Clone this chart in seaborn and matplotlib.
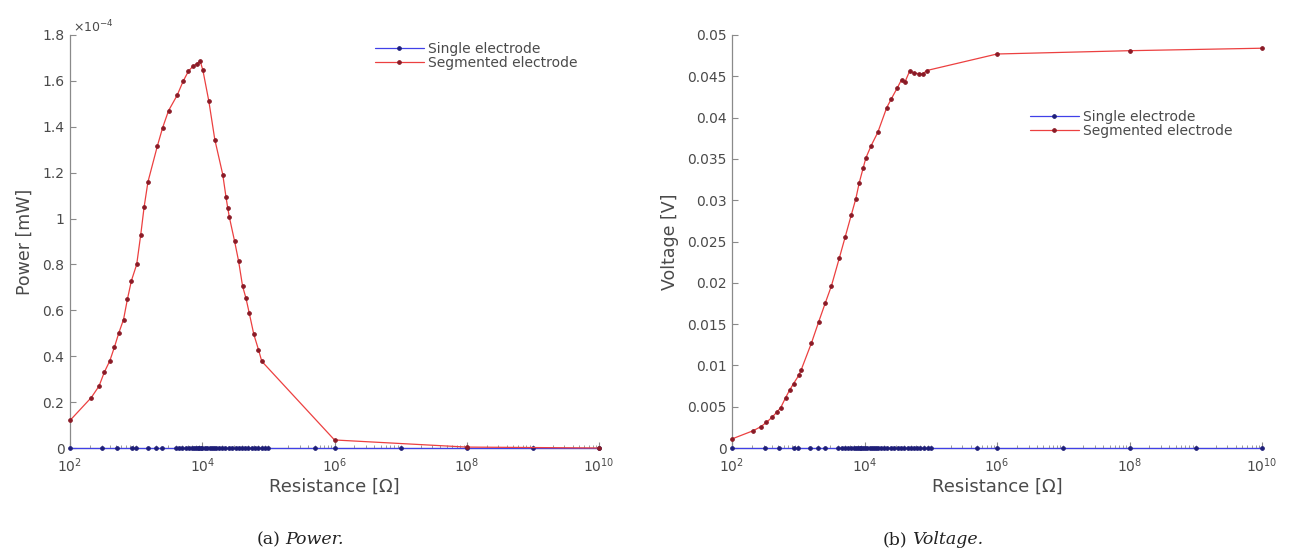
import math
import matplotlib
matplotlib.use("Agg")
import matplotlib.pyplot as plt
from matplotlib.ticker import (LogLocator, FuncFormatter, MultipleLocator,
                               NullFormatter, FixedLocator)
import seaborn as sns
import pandas as pd

# ---------------- data ----------------
# Segmented electrode, power sweep (resistance in ohm, power in units of 1e-4 mW)
seg_power_R = [100, 210, 275, 330, 400, 470, 545, 645, 740, 850, 1020, 1175, 1320,
               1510, 2090, 2510, 3090, 4170, 5130, 6170, 7240, 8320, 9330, 10230,
               12590, 15490, 20420, 22910, 24270, 25700, 30900, 35480, 40740, 45710,
               51290, 60260, 70790, 79430, 1e6, 1e8, 1e10]
seg_power = [0.12, 0.22, 0.27, 0.33, 0.38, 0.44, 0.50, 0.56, 0.65, 0.73, 0.80, 0.93, 1.05,
             1.16, 1.315, 1.395, 1.47, 1.537, 1.598, 1.642, 1.664, 1.675, 1.685, 1.646,
             1.511, 1.344, 1.192, 1.092, 1.047, 1.006, 0.90, 0.814, 0.705, 0.654,
             0.589, 0.495, 0.429, 0.378, 0.035, 0.004, 0.0]
POWER_EXP = -4

# Segmented electrode, voltage sweep (resistance in ohm, voltage in V)
seg_volt_R = [100, 210, 275, 330, 400, 470, 545, 645, 740, 850, 1020, 1100, 1580, 2040,
              2570, 3160, 4170, 5130, 6310, 7410, 8320, 9550, 10470, 12590, 15850,
              21630, 25120, 31260, 36310, 40740, 47860, 56230, 67610, 75860, 87100,
              1e6, 1e8, 1e10]
seg_volt = [0.0011, 0.0021, 0.0026, 0.0031, 0.0037, 0.0043, 0.0049, 0.0061, 0.0070,
            0.0078, 0.0088, 0.0094, 0.0127, 0.0153, 0.0176, 0.0196, 0.0230, 0.0256,
            0.0282, 0.0302, 0.0321, 0.0339, 0.0351, 0.0366, 0.0382, 0.0412, 0.0422,
            0.0436, 0.0446, 0.0443, 0.0456, 0.0454, 0.0453, 0.0453, 0.0457,
            0.0477, 0.0481, 0.0484]

# Single electrode sweep (same resistances for both quantities)
single_R = [100, 310, 520, 870, 1000, 1500, 2000, 2500,
            4000, 4500, 5000, 5600, 6300, 7000, 7500, 8000, 8500, 9000, 9500, 10000,
            11000, 12000, 13000, 14000, 15000, 16000, 18000, 20000,
            22000, 25000, 28000, 32000, 36000, 40000, 45000, 50000,
            56000, 63000, 70000, 80000, 90000, 100000,
            500000, 1e6, 1e7, 1e8, 1e9, 1e10]
single_power = [0.0, 0.0, 0.0, 0.0, 0.0, 0.0, 0.0, 0.0,
                0.0, 0.0, 0.0, 0.0, 0.0, 0.0, 0.0, 0.0, 0.0, 0.0, 0.0, 0.0,
                0.0, 0.0, 0.0, 0.0, 0.0, 0.0, 0.0, 0.0,
                0.0, 0.0, 0.0, 0.0, 0.0, 0.0, 0.0, 0.0,
                0.0, 0.0, 0.0, 0.0, 0.0, 0.0,
                0.0, 0.0, 0.0, 0.0, 0.0, 0.0]
single_volt = [0.0, 0.0, 0.0, 0.0, 0.0, 0.0, 0.0, 0.0,
               0.0, 0.0, 0.0, 0.0, 0.0, 0.0, 0.0, 0.0, 0.0, 0.0, 0.0, 0.0,
               0.0, 0.0, 0.0, 0.0, 0.0, 0.0, 0.0, 0.0,
               0.0, 0.0, 0.0, 0.0, 0.0, 0.0, 0.0, 0.0,
               0.0, 0.0, 0.0, 0.0, 0.0, 0.0,
               0.0, 0.0, 0.0, 0.0, 0.0, 0.0]

x_ticks = [1e2, 1e4, 1e6, 1e8, 1e10]
series_labels = ["Single electrode", "Segmented electrode"]
x_label = "Resistance [Ω]"
y_labels = ["Power [mW]", "Voltage [V]"]
captions = [("(a)", "Power."), ("(b)", "Voltage.")]

# ---------------- style ----------------
sns.set_theme(style="white")
plt.rcParams["font.family"] = ["DejaVu Sans"]
plt.rcParams["mathtext.fontset"] = "dejavusans"

AX_GRAY = "#8a8a8a"
TXT_GRAY = "#4a4a4a"
BLUE_LINE, BLUE_MK = "#4040e8", "#1e1e78"
RED_LINE, RED_MK = "#ec4040", "#8a1a26"

W, H = 1300, 557
fig = plt.figure(figsize=(W / 100, H / 100), dpi=100)
ax1 = fig.add_axes([70 / W, 109 / H, 529 / W, 413 / H])
ax2 = fig.add_axes([732 / W, 109 / H, 530 / W, 413 / H])

scale = 10.0 ** POWER_EXP
df_sp = pd.DataFrame({"R": single_R, "v": [p * scale for p in single_power]})
df_gp = pd.DataFrame({"R": seg_power_R, "v": [p * scale for p in seg_power]})
df_sv = pd.DataFrame({"R": single_R, "v": single_volt})
df_gv = pd.DataFrame({"R": seg_volt_R, "v": seg_volt})

common = dict(x="R", y="v", sort=False, estimator=None, linewidth=0.9,
              marker="o", markersize=2.6, clip_on=False, zorder=3)

for ax, d_single, d_seg in ((ax1, df_sp, df_gp), (ax2, df_sv, df_gv)):
    sns.lineplot(data=d_single, ax=ax, color=BLUE_LINE, markerfacecolor=BLUE_MK,
                 markeredgecolor=BLUE_MK, label=series_labels[0], **common)
    sns.lineplot(data=d_seg, ax=ax, color=RED_LINE, markerfacecolor=RED_MK,
                 markeredgecolor=RED_MK, label=series_labels[1], **common)
    ax.set_xscale("log")
    ax.set_xlim(x_ticks[0], x_ticks[-1])
    ax.xaxis.set_major_locator(FixedLocator(x_ticks))
    ax.xaxis.set_minor_locator(LogLocator(base=10, subs=range(1, 10), numticks=100))
    ax.xaxis.set_minor_formatter(NullFormatter())
    ax.xaxis.set_major_formatter(
        FuncFormatter(lambda v, p: r"$10^{%d}$" % round(math.log10(v))))
    for s in ("top", "right"):
        ax.spines[s].set_visible(False)
    for s in ("left", "bottom"):
        ax.spines[s].set_color(AX_GRAY)
        ax.spines[s].set_linewidth(0.9)
    ax.tick_params(axis="both", which="major", direction="in", length=4, width=0.8,
                   color=AX_GRAY, labelcolor=TXT_GRAY, labelsize=10, pad=4)
    ax.tick_params(axis="x", which="major", pad=6)
    ax.tick_params(axis="x", which="minor", direction="in", length=2, width=0.6,
                   color=AX_GRAY)
    ax.tick_params(left=True, bottom=True, which="both")
    ax.set_xlabel(x_label, fontsize=13, color=TXT_GRAY, labelpad=2)

# power axis
ax1.set_ylim(0, 1.8 * scale)
ax1.yaxis.set_major_locator(MultipleLocator(0.2 * scale))
ax1.yaxis.set_major_formatter(
    FuncFormatter(lambda v, p: f"{v / scale:.10g}" if abs(v) > 1e-12 else "0"))
ax1.set_ylabel(y_labels[0], fontsize=12.5, color=TXT_GRAY, labelpad=6)
ax1.text(0.006, 1.0, r"$\times10^{%d}$" % POWER_EXP, transform=ax1.transAxes,
         ha="left", va="bottom", fontsize=9, color=TXT_GRAY)

# voltage axis
ax2.set_ylim(0, 0.05)
ax2.yaxis.set_major_locator(MultipleLocator(0.005))
ax2.yaxis.set_major_formatter(
    FuncFormatter(lambda v, p: f"{v:.3g}" if abs(v) > 1e-12 else "0"))
ax2.set_ylabel(y_labels[1], fontsize=12.5, color=TXT_GRAY, labelpad=6)

# legends (frameless, placed inside each panel)
leg_kw = dict(frameon=False, fontsize=10, handlelength=3.5, handletextpad=0.35,
              labelspacing=0.05, borderpad=0, borderaxespad=0, numpoints=1,
              loc="center left", bbox_transform=fig.transFigure, labelcolor=TXT_GRAY)
ax1.legend(bbox_to_anchor=(375 / W, 1 - 56 / H), **leg_kw)
ax2.legend(bbox_to_anchor=(1030 / W, 1 - 124 / H), **leg_kw)

# sub-figure captions
fig.canvas.draw()
renderer = fig.canvas.get_renderer()
for (tag, word), xc in zip(captions, (300, 933)):
    t1 = fig.text(0, 1 - 540 / H, tag, fontsize=12.5, family="DejaVu Serif",
                  color="#222222", va="center", ha="left")
    t2 = fig.text(0, 1 - 540 / H, word, fontsize=12.5, family="DejaVu Serif",
                  style="italic", color="#222222", va="center", ha="left")
    w1 = t1.get_window_extent(renderer).width
    w2 = t2.get_window_extent(renderer).width
    gap = 5
    x0 = xc - (w1 + gap + w2) / 2
    t1.set_x(x0 / W)
    t2.set_x((x0 + w1 + gap) / W)

fig.savefig("out.png", dpi=100, facecolor="white")
